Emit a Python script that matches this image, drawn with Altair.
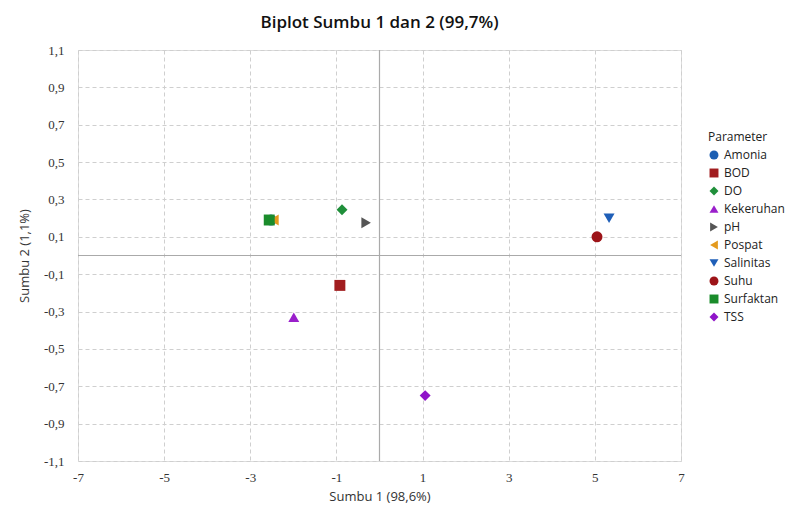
import altair as alt
import pandas as pd

params = ["Amonia", "BOD", "DO", "Kekeruhan", "pH", "Pospat", "Salinitas", "Suhu", "Surfaktan", "TSS"]
sumbu1 = [-2.52, -0.92, -0.87, -1.99, -0.31, -2.45, 5.33, 5.05, -2.56, 1.06]
sumbu2 = [0.19, -0.16, 0.245, -0.33, 0.175, 0.19, 0.20, 0.10, 0.19, -0.75]
shapes = ["circle", "square", "diamond", "triangle-up", "triangle-right", "triangle-left",
          "triangle-down", "circle", "square", "diamond"]
colors = ["#1d5fb3", "#a11d1f", "#1f8f3a", "#9a1fcb", "#555555", "#e39a1e",
          "#1f5fb8", "#9d1418", "#1a8c2b", "#8f14c9"]
x_ticks = [-7, -5, -3, -1, 1, 3, 5, 7]
y_ticks = [-1.1, -0.9, -0.7, -0.5, -0.3, -0.1, 0.1, 0.3, 0.5, 0.7, 0.9, 1.1]

df = pd.DataFrame({"Parameter": params, "x": sumbu1, "y": sumbu2})

x_scale = alt.Scale(domain=[-7, 7], nice=False, zero=False)
y_scale = alt.Scale(domain=[-1.1, 1.1], nice=False, zero=False)

points = alt.Chart(df).mark_point(filled=True, size=120, opacity=1).encode(
    x=alt.X("x:Q", scale=x_scale, title="Sumbu 1 (98,6%)",
            axis=alt.Axis(values=x_ticks, tickCount=20, grid=True, gridDash=[4, 3], gridColor="#cfcfcf",
                          domain=False, ticks=False, labelPadding=10,
                          labelOverlap=False, labelFlush=False,
                          labelExpr="replace(replace(format(datum.value, '.0f'), '.', ','), '\u2212', '-')",
                          labelFont="Liberation Serif", labelFontSize=13, labelColor="#333333",
                          titleFont="Open Sans", titleFontSize=13, titleFontWeight="normal",
                          titleColor="#333333", titlePadding=6)),
    y=alt.Y("y:Q", scale=y_scale, title="Sumbu 2 (1,1%)",
            axis=alt.Axis(values=y_ticks, tickCount=20, grid=True, gridDash=[4, 3], gridColor="#cfcfcf",
                          domain=False, ticks=False, labelPadding=14,
                          labelOverlap=False, labelFlush=False,
                          labelExpr="replace(replace(format(datum.value, '.1f'), '.', ','), '\u2212', '-')",
                          labelFont="Liberation Serif", labelFontSize=13, labelColor="#333333",
                          titleFont="Open Sans", titleFontSize=13, titleFontWeight="normal",
                          titleColor="#333333", titlePadding=12)),
    color=alt.Color("Parameter:N", scale=alt.Scale(domain=params, range=colors),
                    legend=alt.Legend(title="Parameter", orient="none", legendX=630, legendY=82,
                                      titleFont="Open Sans", titleFontSize=12, titleFontWeight="normal",
                                      titleColor="#222222", labelFont="Open Sans", labelFontSize=12,
                                      labelColor="#222222", symbolSize=80, rowPadding=6,
                                      titlePadding=5)),
    shape=alt.Shape("Parameter:N", scale=alt.Scale(domain=params, range=shapes)),
)

zero_x = alt.Chart(pd.DataFrame({"x": [0]})).mark_rule(color="#aaaaaa", strokeWidth=1.2).encode(
    x=alt.X("x:Q", scale=x_scale))
zero_y = alt.Chart(pd.DataFrame({"y": [0]})).mark_rule(color="#aaaaaa", strokeWidth=1.2).encode(
    y=alt.Y("y:Q", scale=y_scale))

chart = alt.layer(zero_x, zero_y, points).properties(
    width=603, height=411,
    title=alt.Title("Biplot Sumbu 1 dan 2 (99,7%)", font="Open Sans", fontSize=17,
                    fontWeight=600, color="#111111", offset=12),
    autosize=alt.AutoSizeParams(type="none"),
    padding={"left": 70, "top": 42, "right": 114, "bottom": 43},
).configure_view(stroke=None).configure(background="white")

chart.save("out.html", embed_options={"renderer": "svg", "actions": False})
